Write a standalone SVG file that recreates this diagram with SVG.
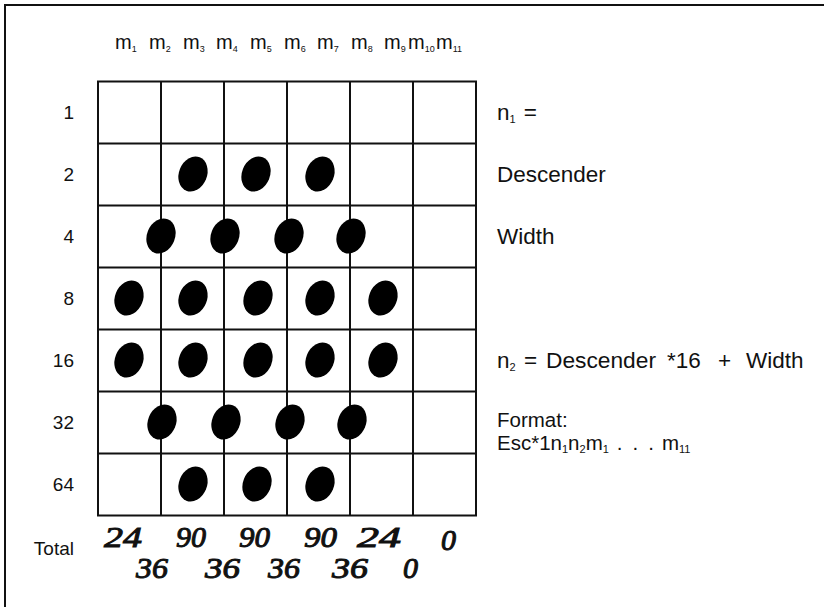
<svg xmlns="http://www.w3.org/2000/svg" width="824" height="607" viewBox="0 0 824 607">
<style>
.t{font-family:"Liberation Sans",Arial,sans-serif;fill:#111}
.lbl{font-size:19px;text-anchor:end}
.hd{font-size:20px}
.hd .sub{font-size:9px}
.rt{font-size:22.5px}
.fm{font-size:20.5px}
.sub{font-size:11px}
.hw{font-family:"Liberation Serif","Times New Roman",serif;font-style:italic;font-size:30px;fill:#111;stroke:#111;stroke-width:1}
.grid{stroke:#111;stroke-width:2;fill:none}
.dot{fill:#000}
</style>
<defs>
<ellipse id="d" cx="0" cy="0" rx="14" ry="18" transform="rotate(22)"/>
</defs>
<g id="frame"><path d="M5 607 V5 H824" stroke="#111" stroke-width="2" fill="none"/></g>
<g id="header" class="t hd">
<text x="115" y="49">m<tspan class="sub" dy="3">1</tspan></text>
<text x="149" y="49">m<tspan class="sub" dy="3">2</tspan></text>
<text x="183" y="49">m<tspan class="sub" dy="3">3</tspan></text>
<text x="216" y="49">m<tspan class="sub" dy="3">4</tspan></text>
<text x="250" y="49">m<tspan class="sub" dy="3">5</tspan></text>
<text x="284" y="49">m<tspan class="sub" dy="3">6</tspan></text>
<text x="317" y="49">m<tspan class="sub" dy="3">7</tspan></text>
<text x="351" y="49">m<tspan class="sub" dy="3">8</tspan></text>
<text x="384" y="49">m<tspan class="sub" dy="3">9</tspan></text>
<text x="408" y="49">m<tspan class="sub" dy="3">10</tspan></text>
<text x="436" y="49">m<tspan class="sub" dy="3">11</tspan></text>
</g>
<g id="grid" class="grid">
<rect x="98" y="81.5" width="378" height="434"/>
<path d="M161 81.5V515.5M224 81.5V515.5M287 81.5V515.5M350 81.5V515.5M413 81.5V515.5"/>
<path d="M98 143.5H476M98 205.5H476M98 267.5H476M98 329.5H476M98 391.5H476M98 453.5H476"/>
</g>
<g id="row-labels" class="t lbl">
<text x="74" y="119">1</text>
<text x="74" y="181">2</text>
<text x="74" y="243">4</text>
<text x="74" y="305">8</text>
<text x="74" y="367">16</text>
<text x="74" y="429">32</text>
<text x="74" y="491">64</text>
<text x="74" y="555">Total</text>
</g>
<g id="dots" class="dot">
<use href="#d" x="193" y="174"/><use href="#d" x="256" y="174"/><use href="#d" x="320" y="174"/>
<use href="#d" x="161" y="236"/><use href="#d" x="225" y="236"/><use href="#d" x="289" y="236"/><use href="#d" x="351" y="236"/>
<use href="#d" x="129" y="298"/><use href="#d" x="193" y="298"/><use href="#d" x="258" y="298"/><use href="#d" x="320" y="298"/><use href="#d" x="383" y="298"/>
<use href="#d" x="129" y="360"/><use href="#d" x="193" y="360"/><use href="#d" x="258" y="360"/><use href="#d" x="320" y="360"/><use href="#d" x="383" y="360"/>
<use href="#d" x="162" y="422"/><use href="#d" x="226" y="422"/><use href="#d" x="290" y="422"/><use href="#d" x="352" y="422"/>
<use href="#d" x="193" y="484"/><use href="#d" x="257" y="484"/><use href="#d" x="320" y="484"/>
</g>
<g id="side-text" class="t rt">
<text x="497" y="120">n<tspan class="sub" dy="3">1</tspan><tspan dy="-3" dx="8">=</tspan></text>
<text x="497" y="182">Descender</text>
<text x="497" y="244">Width</text>
<text x="497" y="368">n<tspan class="sub" dy="3">2</tspan></text>
<text x="524" y="368">=</text>
<text x="546" y="368" textLength="110" lengthAdjust="spacingAndGlyphs">Descender</text>
<text x="667" y="368">*16</text>
<text x="718" y="368">+</text>
<text x="746" y="368">Width</text>
<text class="fm" x="497" y="427">Format:</text>
<text class="fm" x="497" y="450">Esc*1n<tspan class="sub" dy="3">1</tspan><tspan dy="-3">n</tspan><tspan class="sub" dy="3">2</tspan><tspan dy="-3">m</tspan><tspan class="sub" dy="3">1</tspan><tspan dy="-3" dx="8">.</tspan><tspan dx="10">.</tspan><tspan dx="10">.</tspan><tspan dx="8">m</tspan><tspan class="sub" dy="3">11</tspan></text>
</g>
<g id="totals" class="hw">
<text x="104" y="547" textLength="38" lengthAdjust="spacingAndGlyphs">24</text>
<text x="176" y="547" textLength="30" lengthAdjust="spacingAndGlyphs">90</text>
<text x="239" y="547" textLength="31" lengthAdjust="spacingAndGlyphs">90</text>
<text x="304" y="547" textLength="33" lengthAdjust="spacingAndGlyphs">90</text>
<text x="357" y="547" textLength="44" lengthAdjust="spacingAndGlyphs">24</text>
<text x="441" y="550">0</text>
<text x="136" y="578" textLength="32" lengthAdjust="spacingAndGlyphs">36</text>
<text x="205" y="578" textLength="35" lengthAdjust="spacingAndGlyphs">36</text>
<text x="268" y="578" textLength="32" lengthAdjust="spacingAndGlyphs">36</text>
<text x="332" y="578" textLength="36" lengthAdjust="spacingAndGlyphs">36</text>
<text x="403" y="578">0</text>
</g>
</svg>
